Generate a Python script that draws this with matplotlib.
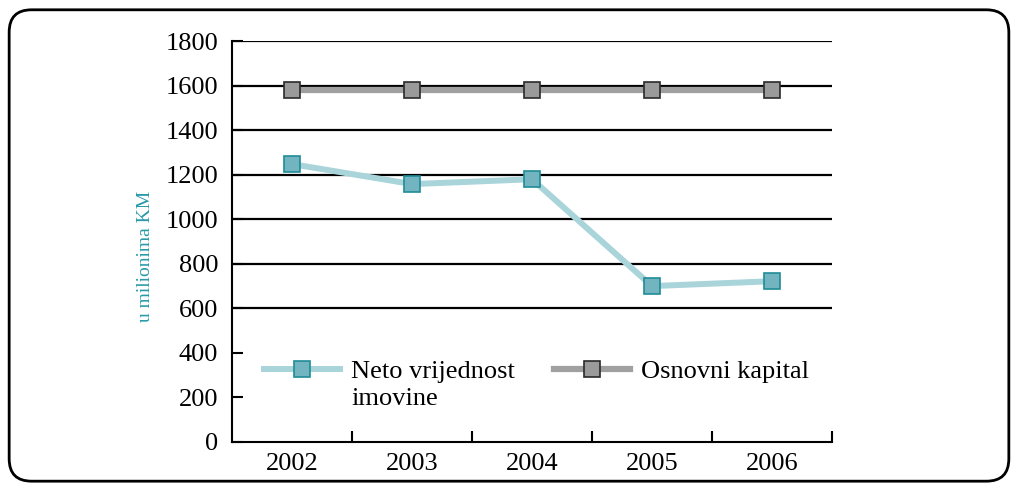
import numpy as np
import matplotlib
matplotlib.use("Agg")
import matplotlib.pyplot as plt
from matplotlib.patches import FancyBboxPatch

# data
years = ["2002", "2003", "2004", "2005", "2006"]
neto_imovina = [1248, 1158, 1180, 700, 722]
osnovni_kapital = [1580, 1580, 1580, 1580, 1580]
y_ticks = [0, 200, 400, 600, 800, 1000, 1200, 1400, 1600, 1800]
grid_levels = [600, 800, 1000, 1200, 1400, 1600, 1800]  # lower ones hidden behind legend

plt.rcParams["font.family"] = ["Liberation Serif", "DejaVu Serif"]

fig = plt.figure(figsize=(10.18, 4.9), dpi=100)
ax = fig.add_axes([0.2279, 0.098, 0.5894, 0.818])

# rounded frame around the whole chart
frame = FancyBboxPatch((0.009, 0.018), 0.982, 0.962,
                       boxstyle="round,pad=0,rounding_size=0.022",
                       transform=fig.transFigure, fill=False,
                       edgecolor="black", linewidth=2, mutation_aspect=2.08)
fig.patches.append(frame)

x = np.arange(len(years))

for yv in grid_levels:
    ax.axhline(yv, color="black", lw=1.6, zorder=1)

ax.plot(x, neto_imovina, color="#a8d4da", lw=4.3, marker="s", markersize=11.5,
        markerfacecolor="#72b5c0", markeredgecolor="#1f8c98", markeredgewidth=1.2,
        label="Neto vrijednost", zorder=3)
ax.plot(x, osnovni_kapital, color="#a0a0a0", lw=4.5, marker="s", markersize=11.5,
        markerfacecolor="#9a9a9a", markeredgecolor="#2a2a2a", markeredgewidth=1.2,
        label="Osnovni kapital", zorder=3)

ax.set_xlim(-0.5, len(years) - 0.5)
ax.set_ylim(0, 1800)
ax.set_yticks(y_ticks)
ax.tick_params(axis="y", direction="in", length=8, width=1.5, labelsize=19, pad=10)
ax.set_xticks(x)
ax.set_xticklabels(years)
ax.tick_params(axis="x", which="major", length=0, labelsize=19, pad=8)
ax.set_xticks(np.arange(len(years)) + 0.5, minor=True)
ax.tick_params(axis="x", which="minor", direction="in", length=8, width=1.5)

for s in ["top", "right"]:
    ax.spines[s].set_visible(False)
ax.spines["left"].set_linewidth(1.5)
ax.spines["bottom"].set_linewidth(1.5)

ax.set_ylabel("u milionima KM", color="#2a9aa8", fontsize=14)
ax.yaxis.set_label_coords(-0.13, 0.464)

leg = ax.legend(loc="center left", bbox_to_anchor=(0.053, 0.177), ncol=2, frameon=False,
                fontsize=19, handlelength=2.9, columnspacing=1.45, handletextpad=0.42,
                borderpad=0, borderaxespad=0)

# second line of the first legend label, placed under the first line
fig.canvas.draw()
bb = leg.get_texts()[0].get_window_extent().transformed(ax.transAxes.inverted())
ax.text(bb.x0, bb.y0 - 0.012, "imovine", va="top", ha="left", fontsize=19,
        transform=ax.transAxes)

fig.savefig("out.png", dpi=100)
